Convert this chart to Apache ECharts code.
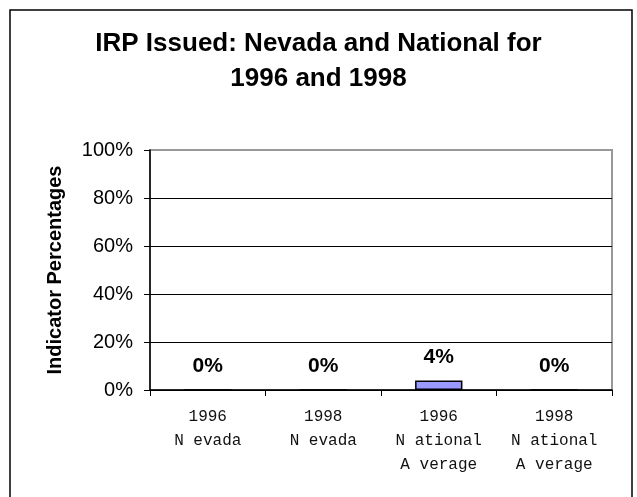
<!DOCTYPE html>
<html>
<head>
<meta charset="utf-8">
<script src="https://cdn.jsdelivr.net/npm/echarts@6/dist/echarts.min.js"></script>
<style>
  html, body { margin: 0; padding: 0; background: #fff; }
  #chart { width: 637px; height: 497px; }
</style>
</head>
<body>
<div id="chart"></div>
<script>
// categories and values
const categories = ['1996\nN evada', '1998\nN evada', '1996\nN ational\nA verage', '1998\nN ational\nA verage']
const values = [0, 0, 4, 0]
const yTicks = [0, 20, 40, 60, 80, 100]

const chart = echarts.init(document.getElementById('chart'))
chart.setOption({
  animation: false,
  title: {
    text: 'IRP Issued: Nevada and National for\n1996 and 1998',
    left: 'center',
    top: 21,
    textStyle: {
      fontFamily: 'Liberation Sans, Arial',
      fontWeight: 'bold',
      fontSize: 26,
      lineHeight: 35,
      color: '#000'
    }
  },
  // outer frame of the chart
  graphic: [{
    type: 'rect',
    shape: { x: 10, y: 10, width: 622, height: 500 },
    style: { fill: 'none', stroke: '#000', lineWidth: 1.5 },
    silent: true
  }],
  grid: {
    left: 150,
    right: 25,
    top: 150,
    bottom: 107,
    show: true,
    borderColor: '#999',
    borderWidth: 2
  },
  xAxis: {
    type: 'category',
    data: categories,
    axisLine: { lineStyle: { color: '#000', width: 1.5 } },
    axisTick: { show: true, length: 6, lineStyle: { color: '#000' } },
    axisLabel: {
      fontFamily: 'Liberation Mono, Courier New, monospace',
      fontSize: 16,
      lineHeight: 24,
      color: '#111',
      margin: 15,
      interval: 0
    }
  },
  yAxis: {
    type: 'value',
    min: yTicks[0],
    max: yTicks[yTicks.length - 1],
    interval: 20,
    name: 'Indicator Percentages',
    nameLocation: 'middle',
    nameGap: 85,
    nameTextStyle: {
      fontFamily: 'Liberation Sans, Arial',
      fontWeight: 'bold',
      fontSize: 20,
      color: '#000'
    },
    axisLine: { show: true, lineStyle: { color: '#000', width: 1.5 } },
    axisTick: { show: true, length: 6, lineStyle: { color: '#000' } },
    axisLabel: {
      formatter: '{value}%',
      fontFamily: 'Liberation Sans, Arial',
      fontSize: 20,
      color: '#000',
      margin: 17
    },
    splitLine: { showMaxLine: false, lineStyle: { color: '#000', width: 1 } }
  },
  series: [{
    type: 'bar',
    data: values,
    barWidth: '41%',
    itemStyle: { color: '#9999FF', borderColor: '#000', borderWidth: 1.5 },
    label: {
      show: true,
      position: 'top',
      distance: 13,
      formatter: '{c}%',
      fontFamily: 'Liberation Sans, Arial',
      fontWeight: 'bold',
      fontSize: 21,
      color: '#000'
    }
  }]
})
</script>
</body>
</html>
